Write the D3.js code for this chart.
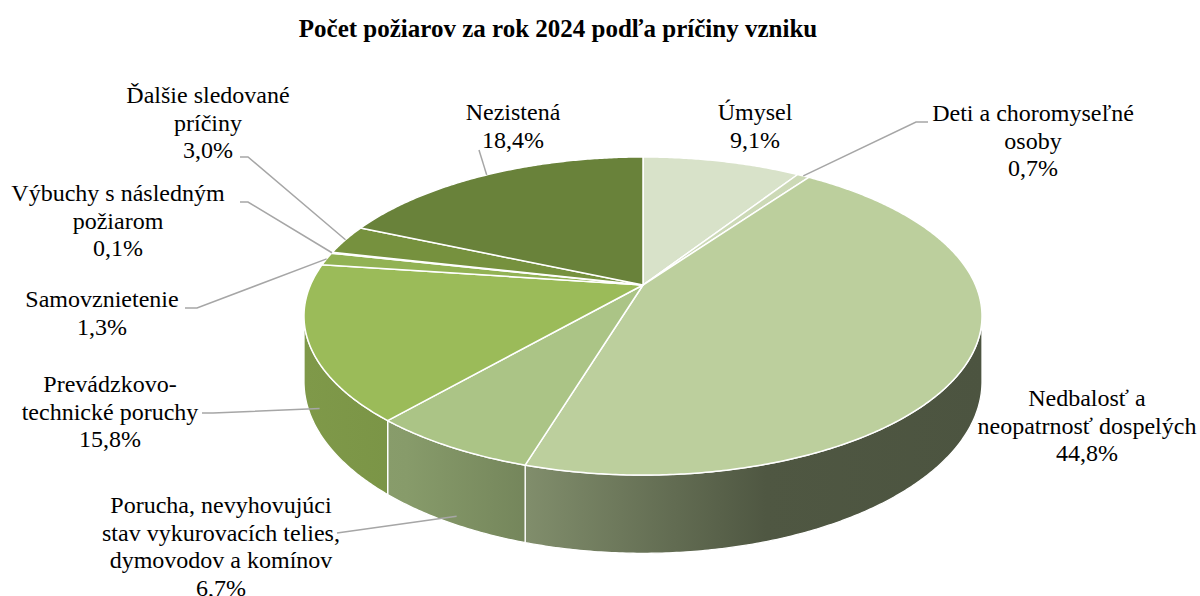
<!DOCTYPE html>
<html>
<head>
<meta charset="utf-8">
<script src="https://cdn.jsdelivr.net/npm/d3@7"></script>
<style>
  body { margin: 0; background: #fff; }
</style>
</head>
<body>
<svg id="chart" width="1200" height="596"></svg>
<script>
// Data: share of fires in 2024 by cause (%)
const categories = [
  'Úmysel',
  'Deti a choromyseľné osoby',
  'Nedbalosť a neopatrnosť dospelých',
  'Porucha, nevyhovujúci stav vykurovacích telies, dymovodov a komínov',
  'Prevádzkovo-technické poruchy',
  'Samovznietenie',
  'Výbuchy s následným požiarom',
  'Ďalšie sledované príčiny',
  'Nezistená'
];
const shares = [9.1, 0.7, 44.8, 6.7, 15.8, 1.3, 0.1, 3.0, 18.4];
const labelLines = [
  ['Úmysel'],
  ['Deti a choromyseľné', 'osoby'],
  ['Nedbalosť a', 'neopatrnosť dospelých'],
  ['Porucha, nevyhovujúci', 'stav vykurovacích telies,', 'dymovodov a komínov'],
  ['Prevádzkovo-', 'technické poruchy'],
  ['Samovznietenie'],
  ['Výbuchy s následným', 'požiarom'],
  ['Ďalšie sledované', 'príčiny'],
  ['Nezistená']
];
const sliceColors = ['#d8e2c9', '#ccd9b6', '#bccf9d', '#abc486', '#9bbb59',
                     '#92b254', '#86a548', '#76913e', '#69823a'];

// label placement (center x, first baseline, label-side leader points)
const labelLayout = [
  { x: 755,  y: 120, lead: null },
  { x: 1033, y: 121, lead: [[928, 122], [916, 122]] },
  { x: 1087, y: 406, lead: null },
  { x: 221,  y: 513, lead: [[337, 533]] },
  { x: 110,  y: 392, lead: [[202, 413], [213, 413]] },
  { x: 102,  y: 307, lead: [[185, 308], [197, 308]] },
  { x: 118,  y: 201, lead: [[240, 202], [248, 202]] },
  { x: 208,  y: 103, lead: [[240, 157], [248, 157]] },
  { x: 513,  y: 120, lead: [[479, 150]] }
];

const FONT = '"Liberation Serif", "Times New Roman", "DejaVu Serif", serif';
const fmt = v => v.toFixed(1).replace('.', ',') + '%';

const svg = d3.select('#chart');
const defs = svg.append('defs');

svg.append('text')
  .attr('x', 558).attr('y', 37)
  .attr('text-anchor', 'middle')
  .attr('font-family', FONT)
  .attr('font-size', 25)
  .attr('font-weight', 'bold')
  .text('Počet požiarov za rok 2024 podľa príčiny vzniku');

// tilted pie with a bit of perspective
const cx = 643, cy = 285, sx = 332.5, sy = 153, kappa = 0.195, depth = 63;
function project(a, r, z) {
  const u = r * Math.sin(a), v = -r * Math.cos(a);
  const d = 1 - kappa * v;
  return [cx + sx * u / d, cy + sy * v / d + z * depth / d];
}
function arcPoints(a0, a1, r, z) {
  const n = Math.max(2, Math.ceil((a1 - a0) / (Math.PI / 360)));
  return d3.range(n + 1).map(i => project(a0 + (a1 - a0) * i / n, r, z));
}

const pie = d3.pie().sort(null).value(d => d);
const arcs = pie(shares);

// side shading goes from light (left) to dark (right)
const shade = [[0, 0.82], [0.15, 0.79], [0.33, 0.68], [0.68, 0.42], [1, 0.405]];
arcs.forEach((a, i) => {
  const g = defs.append('linearGradient')
    .attr('id', 'side' + i)
    .attr('gradientUnits', 'userSpaceOnUse')
    .attr('x1', 305).attr('x2', 983).attr('y1', 0).attr('y2', 0);
  const base = d3.rgb(sliceColors[i]);
  shade.forEach(([t, f]) => {
    g.append('stop')
      .attr('offset', t)
      .attr('stop-color', d3.rgb(base.r * f, base.g * f, base.b * f).formatHex());
  });
});

const frontA = Math.acos(-kappa), frontB = 2 * Math.PI - frontA;
const line = d3.line();

// side walls (front half only)
const sides = svg.append('g');
arcs.forEach((a, i) => {
  const s0 = Math.max(a.startAngle, frontA), s1 = Math.min(a.endAngle, frontB);
  if (s1 <= s0) return;
  const top = arcPoints(s0, s1, 1, 0);
  const bot = arcPoints(s0, s1, 1, 1).reverse();
  sides.append('path')
    .attr('d', line(top.concat(bot)) + 'Z')
    .attr('fill', `url(#side${i})`)
    .attr('stroke', '#fff')
    .attr('stroke-width', 1.3)
    .attr('stroke-linejoin', 'round');
});

// top faces
const tops = svg.append('g');
arcs.forEach((a, i) => {
  const pts = [[cx, cy]].concat(arcPoints(a.startAngle, a.endAngle, 1, 0));
  tops.append('path')
    .attr('d', line(pts) + 'Z')
    .attr('fill', sliceColors[i])
    .attr('stroke', '#fff')
    .attr('stroke-width', 1.5)
    .attr('stroke-linejoin', 'round');
});

// leader lines
const leaders = svg.append('g');
arcs.forEach((a, i) => {
  const lay = labelLayout[i];
  if (!lay.lead) return;
  const mid = (a.startAngle + a.endAngle) / 2;
  const front = mid > frontA && mid < frontB;
  const end = front ? project(mid, 0.97, 1) : project(mid, 1, 0);
  leaders.append('path')
    .attr('d', line(lay.lead.concat([end])))
    .attr('fill', 'none')
    .attr('stroke', '#a6a6a6')
    .attr('stroke-width', 1.5);
});

// labels
const labels = svg.append('g')
  .attr('font-family', FONT)
  .attr('font-size', 24);
arcs.forEach((a, i) => {
  const lay = labelLayout[i];
  const lines = labelLines[i].concat([fmt(shares[i])]);
  const t = labels.append('text').attr('text-anchor', 'middle');
  lines.forEach((s, k) => {
    t.append('tspan').attr('x', lay.x).attr('y', lay.y + k * 27.5).text(s);
  });
});
</script>
</body>
</html>
